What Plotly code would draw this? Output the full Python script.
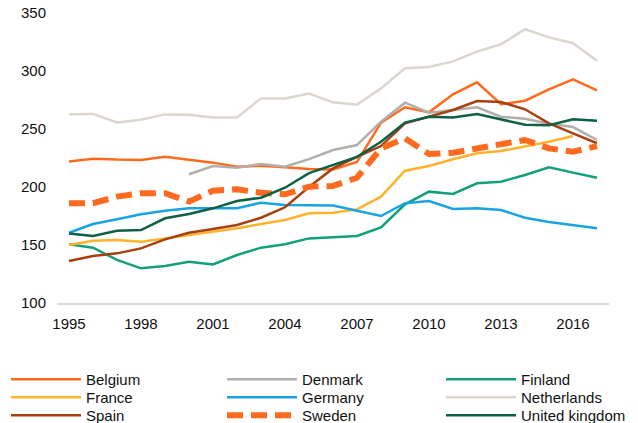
import plotly.graph_objects as go

years = list(range(1995, 2018))

belgium = [222, 224.4, 223.6, 223.3, 226, 223.3, 221, 217.5, 218.4, 217, 215.5, 215, 221.6,
           255.5, 268.7, 264.4, 279.9, 290.2, 271.3, 274.4, 284.2, 292.8, 283.3]
denmark = [None] * 5 + [211, 218, 216.7, 219.8, 217.5, 224, 231.9, 236.2, 256.3, 272.7,
                        264.1, 266.4, 268.7, 260.6, 258.9, 254.6, 251.7, 240.5]
finland = [150.6, 147.7, 137.1, 129.9, 131.9, 135.6, 133.3, 141.4, 147.7, 150.6, 155.7, 156.6,
           157.8, 165.2, 185.1, 196, 194, 203.2, 204.6, 210.3, 217, 212.4, 208]
france = [150, 153.7, 154.3, 152.9, 155.7, 158.6, 162, 164.4, 168.1, 171.6, 177.3, 177.9,
          180.7, 191.7, 214, 218.1, 223.9, 229, 231, 235.3, 239, 244, None]
germany = [160.6, 168.1, 172.2, 176.5, 179.6, 181.6, 181.6, 181.6, 186.5, 184.5, 184.2, 184,
           179.6, 175, 186, 187.9, 181, 181.6, 180.2, 173.5, 169.8, 167.2, 164.4]
netherlands = [262.7, 263, 255.7, 258, 262.6, 262.3, 260, 260, 276.4, 276.4, 280.5, 273, 271,
               285, 302.3, 303.4, 308.3, 316.7, 323, 336, 329, 323.9, 308.9]
spain = [136.2, 140.5, 142.8, 147.1, 154.9, 160.6, 163.8, 167.2, 173.5, 182.5, 200, 216, 226,
         235.3, 254.9, 260.6, 266.4, 274.1, 273.3, 267, 254.9, 246.3, 237.7]
sweden = [185.9, 186, 191.7, 194.6, 194.6, 187.4, 196.8, 198, 195.1, 193.7, 200.3, 200.9, 208,
          233.3, 242, 228.4, 229.6, 233.3, 237, 240.5, 233.3, 230.4, 235.3]
united_kingdom = [160, 157.8, 162.3, 162.9, 173, 176.7, 181.6, 187.9, 190.8, 199.4, 212, 219,
                  226, 239, 255.5, 260.6, 260, 262.9, 258.4, 253.7, 253.2, 258.4, 257.2]

x_ticks = [1995, 1998, 2001, 2004, 2007, 2010, 2013, 2016]

series = [
    ("Belgium", belgium, "#FF6A1E", 2.5, "solid"),
    ("Denmark", denmark, "#B2AEA9", 2.5, "solid"),
    ("Finland", finland, "#12A07B", 2.5, "solid"),
    ("France", france, "#FFB22C", 2.5, "solid"),
    ("Germany", germany, "#1AA3E2", 2.5, "solid"),
    ("Netherlands", netherlands, "#DCD6CF", 2.5, "solid"),
    ("Spain", spain, "#A7400E", 2.5, "solid"),
    ("Sweden", sweden, "#FF6A1E", 6, "16px,8px"),
    ("United kingdom", united_kingdom, "#0D5F45", 2.5, "solid"),
]

W, H = 638, 423
font_family = "Liberation Sans, Arial, sans-serif"
text_color = "#111111"

# Legend grid: three columns, three rows (row-major in trace order)
col_left_px = [6, 222, 441]
row_top_px = [363, 381, 399]

fig = go.Figure()
layout_legends = {}
for i, (name, vals, color, width, dash) in enumerate(series):
    key = "legend" if i == 0 else f"legend{i + 1}"
    fig.add_trace(go.Scatter(
        x=years, y=vals, name=name, mode="lines",
        line=dict(color=color, width=width, dash=dash),
        connectgaps=False, legend=key,
    ))
    row, col = divmod(i, 3)
    layout_legends[key] = dict(
        xref="container", yref="container",
        x=col_left_px[col] / W, xanchor="left",
        y=1 - row_top_px[row] / H, yanchor="top",
        orientation="h",
        itemwidth=70,
        font=dict(size=15, family=font_family, color=text_color),
        bgcolor="rgba(0,0,0,0)",
    )

fig.update_layout(
    width=W, height=H,
    margin=dict(l=57, r=29, t=13, b=120, autoexpand=False),
    paper_bgcolor="white", plot_bgcolor="white",
    font=dict(family=font_family, size=15, color=text_color),
    showlegend=True,
    xaxis=dict(
        range=[1994.5, 2017.5],
        tickmode="array", tickvals=x_ticks, ticktext=[str(v) for v in x_ticks],
        showgrid=False, zeroline=False,
        showline=True, linecolor="#D9D9D9", linewidth=1.5,
        ticks="", ticklabelstandoff=6,
        tickfont=dict(size=15),
    ),
    yaxis=dict(
        range=[100, 350],
        tickvals=[100, 150, 200, 250, 300, 350],
        showgrid=False, zeroline=False, showline=False,
        ticks="", ticklabelstandoff=10,
        tickfont=dict(size=15),
    ),
    **layout_legends,
)

fig.write_html("out.html")
